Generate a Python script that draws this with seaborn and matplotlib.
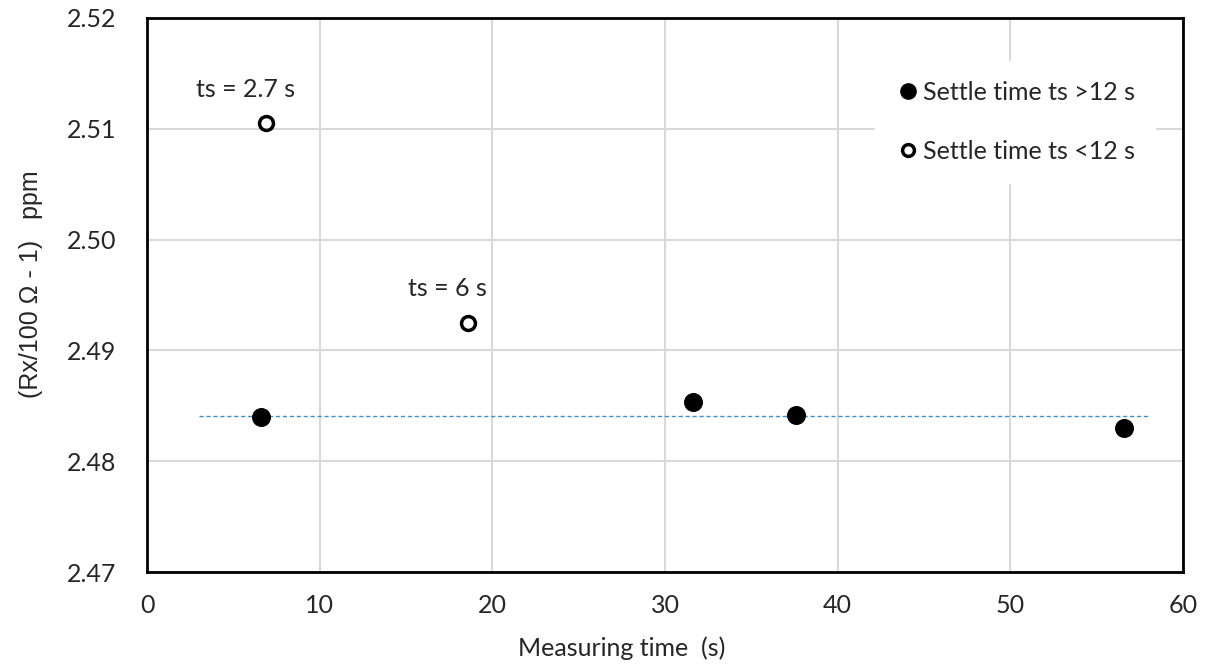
import matplotlib.pyplot as plt
import matplotlib.lines as mlines
import seaborn as sns
import pandas as pd

# data
long_x = [6.6, 31.6, 37.6, 56.6]
long_y = [2.4840, 2.4853, 2.4842, 2.4830]
short_x = [6.9, 18.6]
short_y = [2.5105, 2.4925]
short_labels = ['ts = 2.7 s', 'ts = 6 s']
trend_x = [3, 58]
trend_y = [2.4841, 2.4841]

sns.set_theme(style='white')
plt.rcParams['font.family'] = ['Lato', 'DejaVu Sans']

fig = plt.figure(figsize=(12.09, 6.65), dpi=100)
ax = fig.add_axes([0.1216, 0.1398, 0.8569, 0.8332])

ax.grid(True, color='#d9d9d9', linewidth=1.5)
ax.set_axisbelow(True)

df_trend = pd.DataFrame({'x': trend_x, 'y': trend_y})
sns.lineplot(data=df_trend, x='x', y='y', ax=ax, color='#3a8fd8',
             linestyle=(0, (3, 2)), linewidth=1.0, zorder=2)

df_long = pd.DataFrame({'x': long_x, 'y': long_y})
sns.scatterplot(data=df_long, x='x', y='y', ax=ax, s=160, color='black',
                edgecolor='black', zorder=3)

df_short = pd.DataFrame({'x': short_x, 'y': short_y})
sns.scatterplot(data=df_short, x='x', y='y', ax=ax, s=100, facecolor='white',
                edgecolor='black', linewidth=2.5, zorder=3)

for x, y, t in zip(short_x, short_y, short_labels):
    ax.annotate(t, (x, y), xytext=(-15, 16), textcoords='offset points',
                ha='center', va='bottom', fontsize=18)

ax.set_xlim(0, 60)
ax.set_ylim(2.47, 2.52)
ax.set_xticks(range(0, 61, 10))
ax.set_yticks([2.47, 2.48, 2.49, 2.50, 2.51, 2.52])
ax.set_yticklabels([f'{v:.2f}' for v in [2.47, 2.48, 2.49, 2.50, 2.51, 2.52]])
ax.tick_params(labelsize=18, length=0)
ax.tick_params(axis='x', pad=16)
ax.tick_params(axis='y', pad=22)

ax.set_xlabel('Measuring time  (s)', fontsize=18)
ax.xaxis.set_label_coords(0.458, -0.117)
ax.set_ylabel('(Rx/100 \u03a9 - 1)   ppm', fontsize=18,
              family=['Liberation Sans', 'DejaVu Sans'])
ax.yaxis.set_label_coords(-0.1, 0.52)

for side in ['top', 'right', 'left', 'bottom']:
    ax.spines[side].set_visible(True)
    ax.spines[side].set_color('black')
    ax.spines[side].set_linewidth(2)

h1 = mlines.Line2D([], [], marker='o', linestyle='none', color='black',
                   markersize=11)
h2 = mlines.Line2D([], [], marker='o', linestyle='none', markerfacecolor='white',
                   markeredgecolor='black', markeredgewidth=2.5, markersize=8.5)
leg = ax.legend([h1, h2], ['Settle time ts >12 s', 'Settle time ts <12 s'],
                loc='upper right', bbox_to_anchor=(0.985, 0.945), frameon=True,
                fontsize=18, handletextpad=0.1, labelspacing=1.45,
                borderpad=0.8, handlelength=1.0)
leg.get_frame().set_edgecolor('white')
leg.get_frame().set_facecolor('white')
leg.get_frame().set_alpha(1)

fig.savefig('out.png', dpi=100)
